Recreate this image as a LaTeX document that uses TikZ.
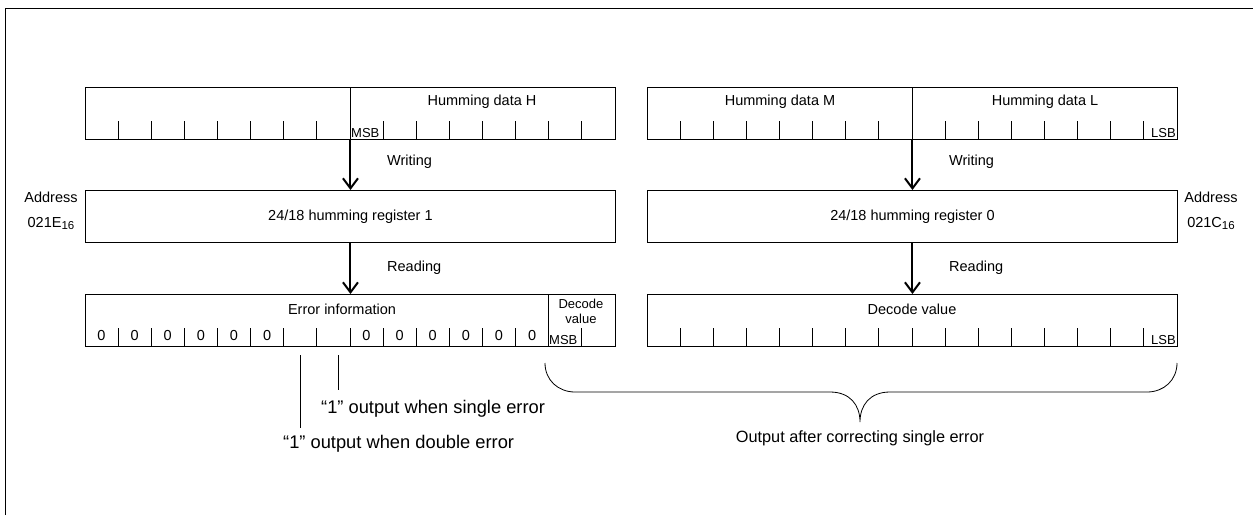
\documentclass[tikz,border=0pt]{standalone}
\usepackage{fontspec}
\setmainfont{Liberation Sans}
\usetikzlibrary{positioning, arrows.meta}

\newcommand{\hexsub}[1]{\raisebox{-2.5pt}{\fontsize{11.5pt}{11.5pt}\selectfont #1}}

\begin{document}
\begin{tikzpicture}[x=1pt, y=-1pt,
    reg/.style={draw, line width=0.9pt, minimum width=530pt, minimum height=52pt, inner sep=0pt, anchor=north west},
    lbl/.style={font=\fontsize{14.5pt}{16pt}\selectfont, inner sep=0pt},
    big/.style={font=\fontsize{18.3pt}{20pt}\selectfont, inner sep=0pt},
    tiny/.style={font=\fontsize{13pt}{14pt}\selectfont, inner sep=1pt},
    pfeil/.style={-{Straight Barb[length=10pt, width=15pt]}, line width=2pt},
    strich/.style={line width=0.8pt}]
  \useasboundingbox (0,0) rectangle (1253,515);
  % Rahmen
  \draw[strich] (5,515) -- (5,8) -- (1253,8);

  % Eingangsdaten H / M / L
  \node[reg] (inH) at (85,87) {};
  \node[reg] (inML) at (647,87) {};
  \draw[strich] (350,87) -- (350,139);
  \draw[strich] (912,87) -- (912,139);
  \foreach \i in {1,...,15} {
    \draw[strich] ({85+\i*33.125},121) -- ({85+\i*33.125},139);
    \draw[strich] ({647+\i*33.125},121) -- ({647+\i*33.125},139);
  }
  \node[lbl] (hH) at (482,102) {Humming data H};
  \node[lbl] (hM) at (780,102) {Humming data M};
  \node[lbl] (hL) at (1045,102) {Humming data L};
  \node[tiny, anchor=south west] (msbH) at (350,139) {MSB};
  \node[tiny, anchor=south east] (lsbL) at (1177,139) {LSB};

  % Register 1 / 0
  \node[reg] (reg1) at (85,190) {};
  \node[reg] (reg0) at (647,190) {};
  \node[lbl] at (reg1.center) {24/18 humming register 1};
  \node[lbl] at (reg0.center) {24/18 humming register 0};
  \node[lbl, align=center] (adr1) at (51,211) {Address\\[9pt]021E\hexsub{16}};
  \node[lbl, align=center] (adr0) at (1211,211) {Address\\[9pt]021C\hexsub{16}};

  \draw[pfeil] (inH.south) -- (reg1.north);
  \draw[pfeil] (inML.south) -- (reg0.north);
  \node[lbl, anchor=west] (wr1) at (387,162) {Writing};
  \node[lbl, anchor=west] (wr0) at (949,162) {Writing};

  % Ausgabe
  \node[reg] (out1) at (85,294) {};
  \node[reg] (out0) at (647,294) {};
  \draw[strich] (548,294) -- (548,346);
  \foreach \i in {1,...,15} {
    \draw[strich] ({85+\i*33.125},328) -- ({85+\i*33.125},346);
    \draw[strich] ({647+\i*33.125},328) -- ({647+\i*33.125},346);
  }
  \foreach \i in {0,...,5,8,9,...,13}
    \node[lbl] at ({101.5+\i*33.125},336) {0};
  \node[lbl] (err) at (342,309) {Error information};
  \node[tiny, align=center, font=\fontsize{13pt}{15pt}\selectfont] (dec1) at (581,311) {Decode\\value};
  \node[lbl] (dec0) at (912,309) {Decode value};
  \node[tiny, anchor=south west] (msb1) at (548,346) {MSB};
  \node[tiny, anchor=south east] (lsb0) at (1177,346) {LSB};

  \draw[pfeil] (reg1.south) -- (out1.north);
  \draw[pfeil] (reg0.south) -- (out0.north);
  \node[lbl, anchor=west] (rd1) at (387,268) {Reading};
  \node[lbl, anchor=west] (rd0) at (949,268) {Reading};

  % Fehlerbits
  \coordinate (dbl) at (300,355);
  \coordinate (sgl) at (338,355);
  \node[big, anchor=west] (tsgl) at (321,409) {“1” output when single error};
  \node[big, anchor=west] (tdbl) at (283,444) {“1” output when double error};
  \draw[strich] (sgl) -- (338,390);
  \draw[strich] (dbl) -- (300,428);

  % Klammer
  \draw[strich] (545,363) .. controls (545,380) and (558,392) .. (575,392)
    -- (830,392) .. controls (850,392) and (860,405) .. (860,422)
    .. controls (860,405) and (870,392) .. (890,392)
    -- (1147,392) .. controls (1164,392) and (1177,380) .. (1177,363);
  \node[font=\fontsize{16.3pt}{18pt}\selectfont, inner sep=0pt] (outtxt) at (860,438) {Output after correcting single error};
\end{tikzpicture}
\end{document}
